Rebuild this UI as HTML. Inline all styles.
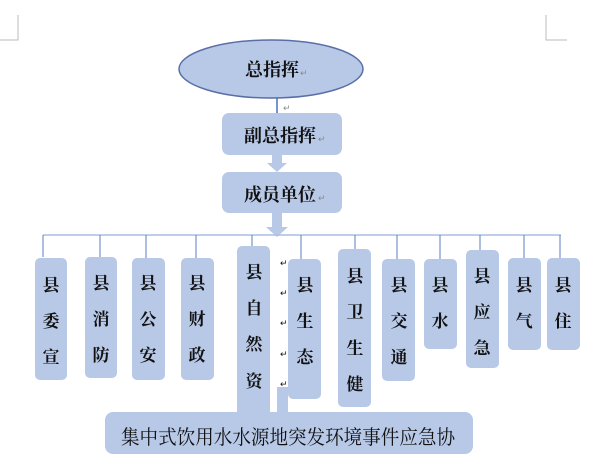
<!DOCTYPE html>
<html><head><meta charset="utf-8"><style>
html,body{margin:0;padding:0;background:#fff;}
svg{display:block;}
text{font-family:"Liberation Serif","Noto Serif CJK SC","Noto Sans CJK SC",serif;fill:#111;}
.m{font-size:9px;fill:#888;}
</style></head><body>
<svg width="600" height="473" viewBox="0 0 600 473" xmlns="http://www.w3.org/2000/svg">
<g stroke="#bbb" stroke-width="1" fill="none">
<path d="M18 15V40H0"/><path d="M546 15V40H567"/>
</g>
<ellipse cx="271" cy="69" rx="92" ry="29" fill="#b8c9e8" stroke="#5a6ea8" stroke-width="1.5"/>
<text x="245" y="76" font-size="18" font-weight="bold">总指挥</text><text x="300" y="76" class="m">↵</text>
<line x1="277" y1="98" x2="277" y2="113" stroke="#4472c4" stroke-width="1.5"/>
<text x="283" y="111" class="m">↵</text>
<rect x="222" y="113" width="120" height="42" rx="7" fill="#b8c9e8"/>
<text x="244" y="142" font-size="18" font-weight="bold">副总指挥</text><text x="318" y="142" class="m">↵</text>
<path d="M272 155h10v8h5l-10 9l-10-9h5z" fill="#b8c9e8"/>
<rect x="222" y="172" width="120" height="41" rx="7" fill="#b8c9e8"/>
<text x="244" y="201" font-size="18" font-weight="bold">成员单位</text><text x="318" y="201" class="m">↵</text>
<path d="M272 213h10v14h6l-11 10l-11-10h6z" fill="#b8c9e8"/>
<line x1="43" y1="235" x2="561" y2="235" stroke="#a9bde0" stroke-width="1.5"/>
<g stroke="#5b7ec4" stroke-width="1">
<line x1="43" y1="235" x2="43" y2="257"/><line x1="100" y1="235" x2="100" y2="257"/>
<line x1="146" y1="235" x2="146" y2="262"/><line x1="196" y1="235" x2="196" y2="258"/>
<line x1="252" y1="235" x2="252" y2="246"/><line x1="301" y1="235" x2="301" y2="259"/>
<line x1="355" y1="235" x2="355" y2="249"/><line x1="397" y1="235" x2="397" y2="259"/>
<line x1="440" y1="235" x2="440" y2="259"/><line x1="480" y1="235" x2="480" y2="260"/>
<line x1="524" y1="235" x2="524" y2="258"/><line x1="560" y1="235" x2="560" y2="260"/>
</g>
<g fill="#b8c9e8">
<rect x="35" y="258" width="32" height="122" rx="5"/>
<rect x="85" y="257" width="32" height="121" rx="5"/>
<rect x="132" y="258" width="33" height="122" rx="5"/>
<rect x="181" y="258" width="33" height="122" rx="5"/>
<rect x="237" y="246" width="33" height="174" rx="5"/>
<rect x="288" y="259" width="33" height="140" rx="5"/>
<rect x="338" y="249" width="33" height="158" rx="5"/>
<rect x="382" y="259" width="33" height="122" rx="5"/>
<rect x="424" y="259" width="33" height="90" rx="5"/>
<rect x="466" y="250" width="33" height="118" rx="5"/>
<rect x="508" y="258" width="33" height="92" rx="5"/>
<rect x="547" y="258" width="33" height="92" rx="5"/>
</g>
<g font-size="17" text-anchor="middle" font-weight="bold">
<text x="51" y="291">县</text><text x="51" y="327">委</text><text x="51" y="363">宣</text>
<text x="101" y="289">县</text><text x="101" y="325">消</text><text x="101" y="361">防</text>
<text x="148" y="289">县</text><text x="148" y="325">公</text><text x="148" y="361">安</text>
<text x="197" y="289">县</text><text x="197" y="325">财</text><text x="197" y="361">政</text>
<text x="254" y="278">县</text><text x="254" y="314">自</text><text x="254" y="350">然</text><text x="254" y="387">资</text>
<text x="305" y="291">县</text><text x="305" y="327">生</text><text x="305" y="363">态</text>
<text x="355" y="282">县</text><text x="355" y="318">卫</text><text x="355" y="354">生</text><text x="355" y="390">健</text>
<text x="399" y="291">县</text><text x="399" y="327">交</text><text x="399" y="363">通</text>
<text x="440" y="291">县</text><text x="440" y="327">水</text>
<text x="482" y="282">县</text><text x="482" y="318">应</text><text x="482" y="354">急</text>
<text x="524" y="291">县</text><text x="524" y="327">气</text>
<text x="563" y="291">县</text><text x="563" y="327">住</text>
</g>
<g class="m"><text x="280" y="266">↵</text><text x="280" y="296">↵</text><text x="280" y="326">↵</text><text x="280" y="357">↵</text><text x="280" y="387">↵</text></g>
<rect x="277" y="387" width="11" height="26" fill="#b8c9e8"/>
<rect x="105" y="412" width="368" height="42" rx="8" fill="#b8c9e8"/>
<text x="121" y="444" font-size="20" textLength="334" lengthAdjust="spacingAndGlyphs">集中式饮用水水源地突发环境事件应急协</text>
</svg>
</body></html>
